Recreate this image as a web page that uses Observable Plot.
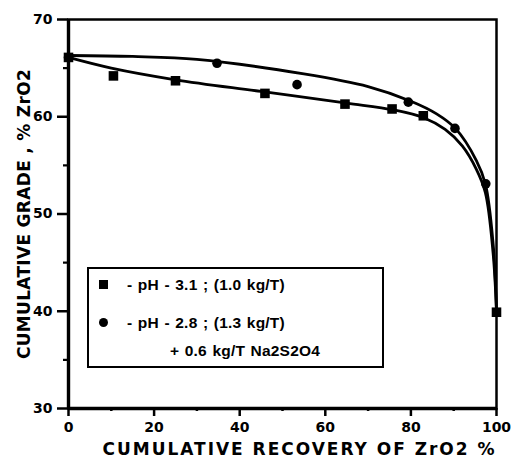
<!DOCTYPE html>
<html>
<head>
<meta charset="utf-8">
<script src="https://cdn.jsdelivr.net/npm/d3@7"></script>
<script src="https://cdn.jsdelivr.net/npm/@observablehq/plot@0.6"></script>
<style>
  html, body { margin: 0; padding: 0; background: #fff; }
  #wrap { position: relative; width: 515px; height: 474px; font-family: "Liberation Sans", Arial, sans-serif; }
  #legend {
    position: absolute; left: 87px; top: 267px; width: 293px; height: 97px;
    border: 2.5px solid #000; box-sizing: content-box; background: #fff;
    font-weight: bold; font-size: 15.5px; color: #000; letter-spacing: 0.2px; word-spacing: 1px;
  }
  .sq { position: absolute; width: 9px; height: 9px; background: #000; }
  .ci { position: absolute; width: 9px; height: 9px; border-radius: 50%; background: #000; }
  .lt { position: absolute; line-height: 16px; white-space: nowrap; }
</style>
</head>
<body>
<div id="wrap"></div>
<script>
// Data
const recoverySquares = [0, 10.5, 25.0, 45.9, 64.6, 75.6, 82.9, 100];
const gradeSquares    = [66.1, 64.2, 63.7, 62.4, 61.3, 60.8, 60.1, 39.9];

const recoveryCircles = [0, 34.7, 53.4, 79.4, 90.3, 97.5];
const gradeCircles    = [66.1, 65.5, 63.3, 61.5, 58.8, 53.1];

// Fitted curves as drawn in the picture
const fitSquaresX = [0, 10, 25, 45, 65, 76, 83, 88, 92, 95.3, 97.4, 99.2, 100];
const fitSquaresY = [66.1, 65.0, 63.8, 62.6, 61.4, 60.7, 59.9, 58.7, 57.0, 54.6, 52.2, 46, 40];
const fitCirclesX = [0, 15, 30, 55, 70, 80, 86, 90.4, 95.3, 97.4, 99.2, 100];
const fitCirclesY = [66.3, 66.2, 65.9, 64.4, 63.1, 61.6, 60.3, 58.8, 55.5, 53.1, 47, 40];

const xTicks = [0, 20, 40, 60, 80, 100];
const xMinor = [10, 30, 50, 70, 90];
const yTicks = [30, 40, 50, 60, 70];
const yMinor = [35, 45, 55, 65];

const xLabel = "CUMULATIVE RECOVERY OF ZrO2 %";
const yLabel = "CUMULATIVE GRADE , % ZrO2";
const legendLabels = ["- pH - 3.1 ; (1.0 kg/T)", "- pH - 2.8 ; (1.3 kg/T)", "+ 0.6 kg/T Na2S2O4"];

const sq = recoverySquares.map((x, i) => ({x, y: gradeSquares[i]}));
const ci = recoveryCircles.map((x, i) => ({x, y: gradeCircles[i]}));
const fs = fitSquaresX.map((x, i) => ({x, y: fitSquaresY[i]}));
const fc = fitCirclesX.map((x, i) => ({x, y: fitCirclesY[i]}));

const F = "DejaVu Sans, sans-serif";

const chart = Plot.plot({
  width: 515,
  height: 474,
  marginLeft: 68,
  marginRight: 19,
  marginTop: 19,
  marginBottom: 66,
  style: {fontFamily: F, fontWeight: "bold", fontSize: "14px", color: "#000", background: "#fff"},
  x: {domain: [0, 100]},
  y: {domain: [30, 70]},
  marks: [
    Plot.line(fs, {x: "x", y: "y", curve: "catmull-rom", stroke: "#000", strokeWidth: 2.8}),
    Plot.line(fc, {x: "x", y: "y", curve: "catmull-rom", stroke: "#000", strokeWidth: 2.8}),
    Plot.dot(sq, {x: "x", y: "y", symbol: "square", r: 5.4, fill: "#000", stroke: "none"}),
    Plot.dot(ci, {x: "x", y: "y", symbol: "circle", r: 4.8, fill: "#000", stroke: "none"}),
    Plot.axisX({ticks: xTicks, tickSize: 8, tickPadding: 6, strokeWidth: 2.5, fontSize: 14, fontWeight: "bold", label: null}),
    Plot.axisX({ticks: xMinor, tickSize: 3, strokeWidth: 2.5, text: null, label: null}),
    Plot.axisY({ticks: yTicks, tickSize: 11, tickPadding: 5, strokeWidth: 2.5, fontSize: 14, fontWeight: "bold", label: null}),
    Plot.axisY({ticks: yMinor, tickSize: 5, strokeWidth: 2.2, text: null, label: null}),
    Plot.frame({stroke: "#000", strokeWidth: 2.5}),
    Plot.ruleX([0], {stroke: "#000", strokeWidth: 3.4}),
    Plot.ruleY([30], {stroke: "#000", strokeWidth: 3.4}),
    Plot.text([xLabel], {frameAnchor: "bottom", dx: 17, dy: 41, fontSize: 17, fontWeight: "bold", fontFamily: F, textAnchor: "middle", lineAnchor: "middle", fill: "#000"}),
    Plot.text([yLabel], {frameAnchor: "left", dx: -44, rotate: -90, fontSize: 17, fontWeight: "bold", fontFamily: F, textAnchor: "middle", lineAnchor: "middle", fill: "#000"})
  ]
});
const wrap = document.getElementById("wrap");
wrap.appendChild(chart);

// stretch the axis titles to the widths they have in the picture
const titles = chart.querySelectorAll("g[aria-label='text'] text");
const targets = [392, 290];
titles.forEach((t, i) => {
  const len = t.getComputedTextLength();
  const n = t.textContent.length;
  const ls = (targets[i] - len) / (n - 1);
  if (ls > 0) t.setAttribute("letter-spacing", ls.toFixed(2));
});

const legend = document.createElement("div");
legend.id = "legend";
legend.innerHTML = `
  <div class="sq" style="left:10px;top:11px"></div>
  <div class="lt" style="left:38px;top:8px">${legendLabels[0]}</div>
  <div class="ci" style="left:10px;top:49px"></div>
  <div class="lt" style="left:38px;top:46px">${legendLabels[1]}</div>
  <div class="lt" style="left:81px;top:74px">${legendLabels[2]}</div>`;
wrap.appendChild(legend);
</script>
</body>
</html>
